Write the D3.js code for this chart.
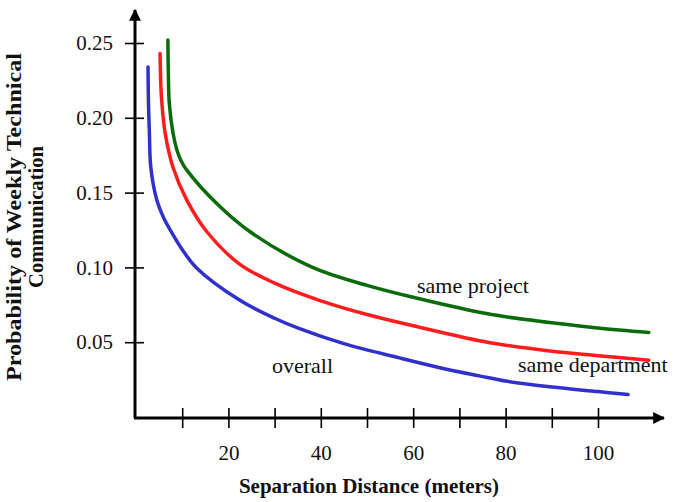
<!DOCTYPE html>
<html lang="en">
  <head>
    <meta charset="utf-8">
    <title>Communication vs distance</title>
    <script src="https://d3js.org/d3.v7.min.js" charset="utf-8"></script>
    <style type="text/css">
        body {
            margin: 0;
            background: #fff;
        }
        svg text {
            font-family: "Liberation Serif", "Times New Roman", serif;
            fill: #111;
        }
    </style>
  </head>
  <body>
    <script type="text/javascript">
        // data (distance in meters, probability)
        var overallDist = [2.6, 2.7, 2.9, 3.2, 4.5, 6, 7.8, 10, 13, 22.5, 30, 35.4, 45, 57, 66, 74.3, 80, 90, 100, 106.5];
        var overallProb = [0.234, 0.21, 0.19, 0.167, 0.145, 0.133, 0.123, 0.112, 0.100, 0.078, 0.066, 0.059, 0.049, 0.0395, 0.0328, 0.0275, 0.024, 0.020, 0.017, 0.015];

        var deptDist = [5.2, 5.4, 5.6, 6.3, 8.0, 11, 15.3, 22.5, 30, 39.7, 50, 60, 74.3, 80, 90, 100, 111];
        var deptProb = [0.243, 0.22, 0.21, 0.19, 0.167, 0.145, 0.124, 0.102, 0.0895, 0.078, 0.0685, 0.061, 0.051, 0.048, 0.044, 0.041, 0.038];

        var projDist = [6.9, 7.0, 7.2, 8.0, 8.9, 9.8, 11, 17.7, 24.6, 38.2, 50, 60, 74.3, 80, 90, 100, 111];
        var projProb = [0.252, 0.23, 0.21, 0.19, 0.178, 0.171, 0.165, 0.142, 0.124, 0.100, 0.088, 0.080, 0.070, 0.067, 0.063, 0.0595, 0.0565];

        var xTicks = [10, 20, 30, 40, 50, 60, 70, 80, 90, 100];
        var yTicks = [0.05, 0.10, 0.15, 0.20, 0.25];

        var seriesNames = ["overall", "same department", "same project"];
        var seriesColors = ["#3030cc", "#ff1c1c", "#0b6b0b"];

        var width = 684, height = 502;

        var svg = d3.select("body").append("svg")
            .attr("width", width)
            .attr("height", height);

        // scales
        var x = d3.scaleLinear().domain([0, 100]).range([136, 598]);
        var y = d3.scaleLinear().domain([0, 0.25]).range([417, 43]);

        // arrow heads
        var defs = svg.append("defs");
        defs.append("marker")
            .attr("id", "arrow")
            .attr("viewBox", "0 0 10 10")
            .attr("refX", 9).attr("refY", 5)
            .attr("markerWidth", 4).attr("markerHeight", 4)
            .attr("markerUnits", "strokeWidth")
            .attr("orient", "auto")
            .append("path")
            .attr("d", "M0,0 L10,5 L0,10 z")
            .attr("fill", "#000");

        // axis lines
        svg.append("line")
            .attr("x1", 135).attr("y1", 418)
            .attr("x2", 135).attr("y2", 10)
            .attr("stroke", "#000").attr("stroke-width", 3)
            .attr("marker-end", "url(#arrow)");
        svg.append("line")
            .attr("x1", 134).attr("y1", 418)
            .attr("x2", 664).attr("y2", 418)
            .attr("stroke", "#000").attr("stroke-width", 3)
            .attr("marker-end", "url(#arrow)");

        // y axis ticks
        var yAxis = svg.append("g")
            .attr("transform", "translate(135,0)")
            .call(d3.axisLeft(y).tickValues(yTicks).tickSize(10).tickPadding(12)
                .tickFormat(d3.format(".2f")));
        yAxis.select(".domain").remove();
        yAxis.selectAll(".tick line").attr("x1", 9).attr("stroke-width", 1.6);
        yAxis.selectAll("text")
            .attr("font-size", 21)
            .attr("font-family", "Liberation Serif")
            .attr("fill", "#222");

        // x axis ticks
        var xAxis = svg.append("g")
            .attr("transform", "translate(0,418)")
            .call(d3.axisBottom(x).tickValues(xTicks).tickSize(10).tickPadding(17)
                .tickFormat(function (d) { return d % 20 === 0 ? d : ""; }));
        xAxis.select(".domain").remove();
        xAxis.selectAll(".tick line").attr("y1", -10).attr("stroke-width", 1.6);
        xAxis.selectAll("text")
            .attr("font-size", 21)
            .attr("font-family", "Liberation Serif")
            .attr("fill", "#222");

        // curves
        var series = [
            { dist: overallDist, prob: overallProb },
            { dist: deptDist, prob: deptProb },
            { dist: projDist, prob: projProb }
        ];
        var line = d3.line()
            .x(function (d) { return x(d[0]); })
            .y(function (d) { return y(d[1]); })
            .curve(d3.curveCatmullRom.alpha(0.5));

        series.forEach(function (s, i) {
            var pts = s.dist.map(function (d, j) { return [d, s.prob[j]]; });
            svg.append("path")
                .datum(pts)
                .attr("d", line)
                .attr("fill", "none")
                .attr("stroke", seriesColors[i])
                .attr("stroke-width", 3.5)
                .attr("stroke-linecap", "round");
        });

        // curve labels
        var labelPos = [[272, 373], [518, 372], [417, 293]];
        seriesNames.forEach(function (n, i) {
            svg.append("text")
                .attr("x", labelPos[i][0])
                .attr("y", labelPos[i][1])
                .attr("font-size", 22)
                .attr("fill", "#222")
                .text(n);
        });

        // axis titles
        svg.append("text")
            .attr("x", 369).attr("y", 493)
            .attr("text-anchor", "middle")
            .attr("font-size", 21)
            .attr("font-weight", "bold")
            .text("Separation Distance (meters)");

        var yt = svg.append("text")
            .attr("transform", "translate(21,217) rotate(-90)")
            .attr("text-anchor", "middle")
            .attr("font-size", 22)
            .attr("font-weight", "bold");
        yt.append("tspan").attr("x", 0).attr("y", 0)
            .attr("textLength", 328).attr("lengthAdjust", "spacingAndGlyphs")
            .text("Probability of Weekly Technical");
        yt.append("tspan").attr("x", 0).attr("y", 22)
            .attr("textLength", 142).attr("lengthAdjust", "spacingAndGlyphs")
            .text("Communication");
    </script>
  </body>
</html>
